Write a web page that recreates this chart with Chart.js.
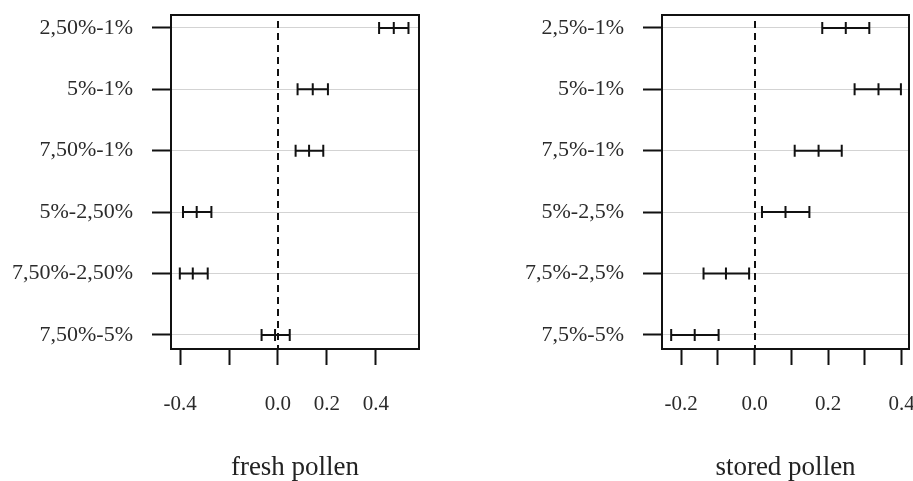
<!DOCTYPE html>
<html>
<head>
<meta charset="utf-8">
<script src="https://cdn.jsdelivr.net/npm/chart.js@4/dist/chart.umd.min.js"></script>
<style>
    html, body { margin: 0; padding: 0; background: #fff; }
    #wrap { position: relative; width: 913px; height: 481px; overflow: hidden; }
    .panel { position: absolute; top: 0; }
</style>
</head>
<body>
<div id="wrap">
    <canvas id="freshChart" class="panel" style="left:0" width="440" height="481"></canvas>
    <canvas id="storedChart" class="panel" style="left:450px" width="463" height="481"></canvas>
</div>
<script>
// fresh pollen
const freshLabels = ['2,50%-1%', '5%-1%', '7,50%-1%', '5%-2,50%', '7,50%-2,50%', '7,50%-5%'];
const freshEstimate = [0.473, 0.142, 0.127, -0.332, -0.348, -0.012];
const freshLower = [0.413, 0.080, 0.072, -0.388, -0.401, -0.067];
const freshUpper = [0.533, 0.204, 0.185, -0.272, -0.287, 0.048];
const freshTicks = [-0.4, -0.2, 0, 0.2, 0.4];
const freshTickLabels = ['-0.4', '', '0.0', '0.2', '0.4'];

// stored pollen
const storedLabels = ['2,5%-1%', '5%-1%', '7,5%-1%', '5%-2,5%', '7,5%-2,5%', '7,5%-5%'];
const storedEstimate = [0.248, 0.337, 0.174, 0.084, -0.078, -0.163];
const storedLower = [0.184, 0.272, 0.109, 0.020, -0.139, -0.227];
const storedUpper = [0.312, 0.398, 0.237, 0.149, -0.015, -0.098];
const storedTicks = [-0.2, -0.1, 0, 0.1, 0.2, 0.3, 0.4];
const storedTickLabels = ['-0.2', '', '0.0', '', '0.2', '', '0.4'];

const serif = 'Liberation Serif';
const textColor = '#2b2b2b';

// horizontal interval lines with caps at lower, estimate and upper
const errorBarPlugin = {
    id: 'errorBars',
    afterDatasetsDraw(chart, args, opts) {
        const { ctx, scales: { x, y } } = chart;
        ctx.save();
        ctx.strokeStyle = '#111';
        ctx.lineWidth = 2;
        opts.estimate.forEach((est, i) => {
            const py = y.getPixelForValue(i);
            const x0 = x.getPixelForValue(opts.lower[i]);
            const xe = x.getPixelForValue(est);
            const x1 = x.getPixelForValue(opts.upper[i]);
            ctx.beginPath();
            ctx.moveTo(x0, py);
            ctx.lineTo(x1, py);
            [x0, xe, x1].forEach(px => {
                ctx.moveTo(px, py - 6);
                ctx.lineTo(px, py + 6);
            });
            ctx.stroke();
        });
        ctx.restore();
    }
};

// dashed line at zero
const zeroLinePlugin = {
    id: 'zeroLine',
    beforeDatasetsDraw(chart) {
        const { ctx, chartArea, scales: { x } } = chart;
        const px = Math.round(x.getPixelForValue(0));
        ctx.save();
        ctx.strokeStyle = '#111';
        ctx.lineWidth = 2;
        ctx.setLineDash([7, 5]);
        ctx.beginPath();
        ctx.moveTo(px, chartArea.top + 6);
        ctx.lineTo(px, chartArea.bottom);
        ctx.stroke();
        ctx.restore();
    }
};

// frame around the plot region
const frameBoxPlugin = {
    id: 'frameBox',
    afterDraw(chart) {
        const { ctx, chartArea: a } = chart;
        ctx.save();
        ctx.strokeStyle = '#111';
        ctx.lineWidth = 2;
        ctx.strokeRect(a.left, a.top, a.right - a.left, a.bottom - a.top);
        ctx.restore();
    }
};

// keep the plot box where it is in the picture, no label overhang padding
function noPadding(s) {
    s.paddingTop = 0;
    s.paddingBottom = 0;
    s.paddingLeft = 0;
    s.paddingRight = 0;
}

function makeChart(id, cfg) {
    const points = cfg.estimate.map((v, i) => ({ x: v, y: i }));
    return new Chart(document.getElementById(id), {
        type: 'scatter',
        data: {
            datasets: [{ data: points, pointRadius: 0, showLine: false }]
        },
        plugins: [zeroLinePlugin, errorBarPlugin, frameBoxPlugin],
        options: {
            responsive: false,
            animation: false,
            layout: { padding: { top: 15, right: cfg.padRight, bottom: 0, left: 0 } },
            plugins: {
                legend: { display: false },
                tooltip: { enabled: false },
                errorBars: { estimate: cfg.estimate, lower: cfg.lower, upper: cfg.upper }
            },
            scales: {
                x: {
                    type: 'linear',
                    min: cfg.xMin,
                    max: cfg.xMax,
                    afterBuildTicks: s => { s.ticks = cfg.ticks.map(v => ({ value: v })); },
                    afterFit: s => { s.height = 132; noPadding(s); },
                    border: { display: false },
                    grid: { drawOnChartArea: false, drawTicks: true, tickLength: 16, tickColor: '#111', tickWidth: 2 },
                    ticks: {
                        autoSkip: false,
                        maxRotation: 0,
                        padding: 27,
                        color: textColor,
                        font: { family: serif, size: 21 },
                        callback: (v, i) => cfg.tickLabels[i]
                    },
                    title: {
                        display: true,
                        text: cfg.title,
                        color: '#222',
                        font: { family: serif, size: 27, lineHeight: 1 },
                        padding: { top: 0, bottom: 0 }
                    }
                },
                y: {
                    type: 'linear',
                    reverse: true,
                    min: -0.21,
                    max: 5.23,
                    afterBuildTicks: s => { s.ticks = cfg.labels.map((_, i) => ({ value: i })); },
                    afterFit: s => { s.width = cfg.yWidth; noPadding(s); },
                    border: { display: false },
                    grid: { color: '#d3d3d3', lineWidth: 1, drawTicks: true, tickLength: 19, tickColor: '#111', tickWidth: 2 },
                    ticks: {
                        autoSkip: false,
                        padding: 19,
                        color: textColor,
                        font: { family: serif, size: 22 },
                        callback: (v, i) => cfg.labels[i]
                    }
                }
            }
        }
    });
}

makeChart('freshChart', {
    labels: freshLabels, estimate: freshEstimate, lower: freshLower, upper: freshUpper,
    ticks: freshTicks, tickLabels: freshTickLabels,
    xMin: -0.437, xMax: 0.576, yWidth: 171, padRight: 21, title: 'fresh pollen'
});

makeChart('storedChart', {
    labels: storedLabels, estimate: storedEstimate, lower: storedLower, upper: storedUpper,
    ticks: storedTicks, tickLabels: storedTickLabels,
    xMin: -0.252, xMax: 0.420, yWidth: 212, padRight: 4, title: 'stored pollen'
});
</script>
</body>
</html>
